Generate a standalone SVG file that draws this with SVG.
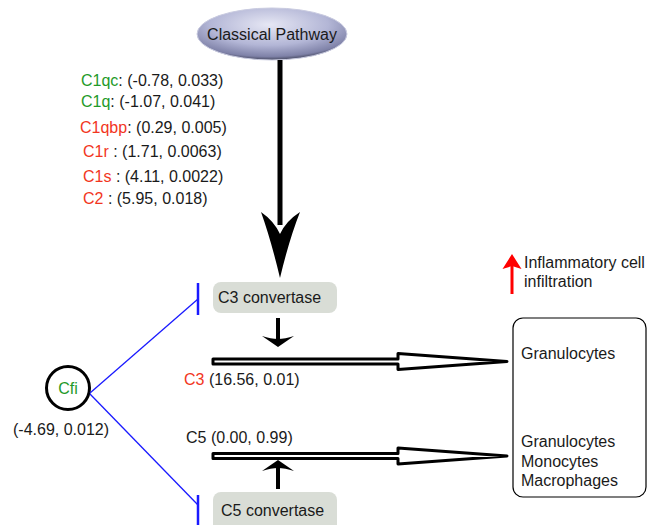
<svg xmlns="http://www.w3.org/2000/svg" width="648" height="525" viewBox="0 0 648 525">
<style>
text{font-family:"Liberation Sans",Arial,sans-serif;font-size:16px;fill:#1a1a1a}
.g{fill:#1f9a2a}.r{fill:#f2361e}
.box{fill:#d9ddd6}
.open{fill:#fff;stroke:#000;stroke-width:3;stroke-linejoin:round}
.blue{stroke:#1a1aff;fill:none}
.blk{fill:#000}
</style>
<defs>
<radialGradient id="eg" cx="0.48" cy="0.32" r="0.72">
<stop offset="0" stop-color="#e6e7f4"/>
<stop offset="0.55" stop-color="#b3b6d6"/>
<stop offset="0.85" stop-color="#7f82a8"/>
<stop offset="1" stop-color="#262838"/>
</radialGradient>
</defs>
<g id="classical-pathway">
<ellipse cx="272" cy="34" rx="75" ry="26" fill="url(#eg)" stroke="#c9cbe0" stroke-width="1"/>
<text x="272" y="40" text-anchor="middle">Classical Pathway</text>
</g>
<g id="c1-list">
<text x="81" y="86"><tspan class="g">C1qc</tspan>: (-0.78, 0.033)</text>
<text x="81" y="107"><tspan class="g">C1q</tspan>: (-1.07, 0.041)</text>
<text x="80" y="133"><tspan class="r">C1qbp</tspan>: (0.29, 0.005)</text>
<text x="83" y="157"><tspan class="r">C1r</tspan> : (1.71, 0.0063)</text>
<text x="83" y="182"><tspan class="r">C1s</tspan> : (4.11, 0.0022)</text>
<text x="83" y="204"><tspan class="r">C2</tspan> : (5.95, 0.018)</text>
</g>
<g id="c3-convertase">
<rect class="box" x="213" y="282" width="124" height="31" rx="8"/>
<text x="218" y="303">C3 convertase</text>
</g>
<g id="c5-convertase">
<rect class="box" x="213" y="492" width="124" height="40" rx="8"/>
<text x="221" y="516">C5 convertase</text>
</g>
<g id="cfi">
<circle cx="68" cy="388" r="21.5" fill="#fff" stroke="#000" stroke-width="3"/>
<text class="g" x="68" y="394" text-anchor="middle">Cfi</text>
<text x="13" y="435">(-4.69, 0.012)</text>
</g>
<g id="c3-label"><text x="184" y="385"><tspan class="r">C3</tspan> (16.56, 0.01)</text></g>
<g id="c5-label"><text x="186" y="443">C5 (0.00, 0.99)</text></g>
<g id="cells">
<rect x="513" y="318" width="133" height="179" rx="10" fill="#fff" stroke="#000" stroke-width="1.2"/>
<text x="521" y="359">Granulocytes</text>
<text x="521" y="447">Granulocytes</text>
<text x="521" y="467">Monocytes</text>
<text x="521" y="486">Macrophages</text>
</g>
<g id="inflammation">
<line x1="512" y1="294" x2="512" y2="266" stroke="#f00" stroke-width="3"/>
<path d="M512 254 L521.5 269 L512 266 L502.5 269 Z" fill="#f00"/>
<text x="524" y="268">Inflammatory cell</text>
<text x="524" y="287">infiltration</text>
</g>
<g id="connectors">
<line x1="280" y1="60" x2="280" y2="225" stroke="#000" stroke-width="5"/>
<path class="blk" d="M280 278 Q271 240 261 212 Q274 221 280 234 Q286 221 300 212 Q289 240 280 278 Z"/>
<line x1="278" y1="318" x2="278" y2="340" stroke="#000" stroke-width="4"/>
<path class="blk" d="M278 347 L262 336 Q271 339 278 339 Q285 339 294 336 Z"/>
<line x1="278" y1="489" x2="278" y2="467" stroke="#000" stroke-width="4"/>
<path class="blk" d="M278 460 L262 471 Q271 468 278 468 Q285 468 294 471 Z"/>
<path class="open" d="M213 359 L398 359 L398 353.5 L507 361.5 L398 369.5 L398 364 L213 364 Z"/>
<path class="open" d="M213 453.5 L398 453.5 L398 448 L507 456 L398 464 L398 458.5 L213 458.5 Z"/>
<line class="blue" x1="90" y1="393" x2="198" y2="299" stroke-width="1.3"/>
<line class="blue" x1="90" y1="394" x2="198" y2="505" stroke-width="1.3"/>
<line class="blue" x1="198" y1="283" x2="198" y2="315" stroke-width="2.5"/>
<line class="blue" x1="198" y1="495" x2="198" y2="525" stroke-width="2.5"/>
</g>
</svg>
